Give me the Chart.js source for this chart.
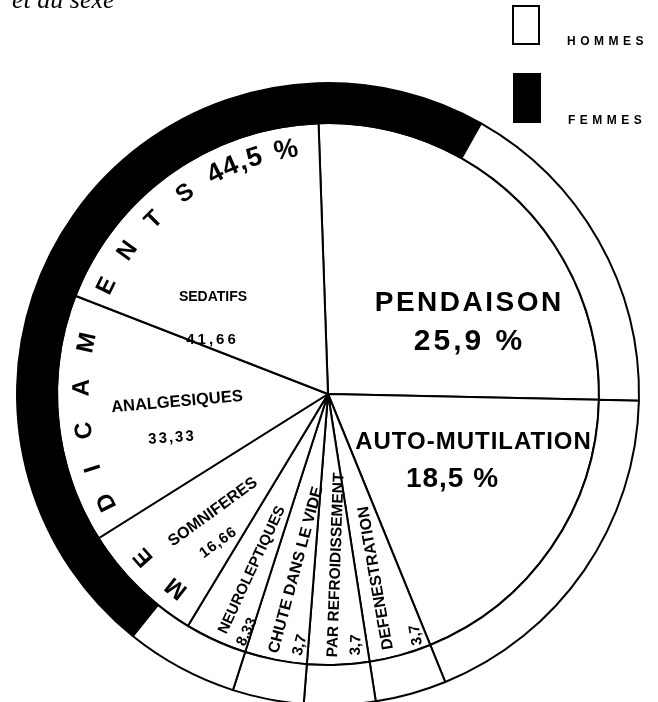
<!DOCTYPE html>
<html><head><meta charset="utf-8">
<script src="https://cdn.jsdelivr.net/npm/chart.js@4/dist/chart.umd.min.js"></script>
<style>
html,body{margin:0;padding:0;background:#fff;}
#wrap{position:relative;width:658px;height:702px;overflow:hidden;background:#fff;}
#c{position:absolute;left:0;top:0;}
.title{position:absolute;left:12px;top:-13px;font:italic 26px "Liberation Serif",serif;line-height:26px;color:#000;white-space:nowrap;}
.box{position:absolute;border:2px solid #000;box-sizing:border-box;}
.lg{position:absolute;font:bold 12px "Liberation Sans",Arial,sans-serif;line-height:12px;letter-spacing:4.5px;color:#000;white-space:nowrap;}
</style></head>
<body>
<div id="wrap">
<canvas id="c" width="658" height="702"></canvas>
<div class="title">et du sexe</div>
<div class="box" style="left:512px;top:5px;width:28px;height:40px;background:#fff"></div>
<div class="box" style="left:513px;top:73px;width:28px;height:50px;background:#000"></div>
<div class="lg" style="left:567px;top:35px">HOMMES</div>
<div class="lg" style="left:568px;top:114px">FEMMES</div>
</div>
<script>
// ---- data ----
const categories = ['PENDAISON','AUTO-MUTILATION','DEFENESTRATION','PAR REFROIDISSEMENT','CHUTE DANS LE VIDE','MEDICAMENTS'];
const categoryPercent = [25.9, 18.5, 3.7, 3.7, 3.7, 44.5];
const drugTypes = ['NEUROLEPTIQUES','SOMNIFERES','ANALGESIQUES','SEDATIFS'];
const drugPercent = [8.33, 16.66, 33.33, 41.66];
const sexes = ['HOMMES','FEMMES'];
// outer ring: share of all cases by sex for each category (read from the ring)
const hommesPercent = [17.15, 18.5, 3.7, 3.7, 3.7, 5.86];
const femmesPercent = [8.75, 0, 0, 0, 0, 38.64];

// ---- build datasets ----
const drugSum = drugPercent.reduce((a,b)=>a+b,0);
const innerLabels = categories.slice(0,5).concat(drugTypes);
const innerValues = categoryPercent.slice(0,5).concat(drugPercent.map(p => categoryPercent[5]*p/drugSum));

const ringValues = [], ringColors = [];
categories.forEach((c,i)=>{
  const order = i===0 ? [1,0] : [0,1];
  order.forEach(s=>{
    const v = s===0 ? hommesPercent[i] : femmesPercent[i];
    if (v>0){ ringValues.push(v); ringColors.push(s===0 ? '#ffffff' : '#000000'); }
  });
});

const FF = '"Liberation Sans", Arial, sans-serif';
// text annotations (offsets relative to pie centre, rotation in degrees)
const textLabels = [
  {t:'PENDAISON', dx:140, dy:-91, r:0, s:28, ls:2.5},
  {t:'25,9 %', dx:140, dy:-52, r:0, s:30, ls:3},
  {t:'AUTO-MUTILATION', dx:145, dy:48, r:0, s:24, ls:1},
  {t:'18,5 %', dx:124, dy:85, r:0, s:28, ls:1},
  {t:'SEDATIFS', dx:-115, dy:-97, r:0, s:14, ls:0},
  {t:'41,66', dx:-117, dy:-54, r:0, s:15, ls:3},
  {t:'ANALGESIQUES', dx:-151, dy:8, r:-5, s:16.5, ls:0},
  {t:'33,33', dx:-157, dy:44, r:-4, s:15, ls:2},
  {t:'SOMNIFERES', dx:-115, dy:118, r:-36, s:16, ls:0},
  {t:'16,66', dx:-110, dy:149, r:-36, s:15, ls:1},
  {t:'NEUROLEPTIQUES', dx:-76, dy:176, r:-65, s:15, ls:0},
  {t:'8,33', dx:-81, dy:238, r:-65, s:15, ls:0},
  {t:'CHUTE DANS LE VIDE', dx:-32, dy:176, r:-75, s:16, ls:0},
  {t:'3,7', dx:-28, dy:251, r:-75, s:15, ls:0},
  {t:'PAR REFROIDISSEMENT', dx:8, dy:171, r:-88, s:15.5, ls:0},
  {t:'3,7', dx:28, dy:251, r:-88, s:15, ls:0},
  {t:'DEFENESTRATION', dx:48, dy:184, r:-100, s:16, ls:0},
  {t:'3,7', dx:88, dy:241, r:-100, s:15, ls:0}
];
// letters of MEDICAMENTS placed around the arc (angle clockwise from top)
const arcTitle = {t:'MEDICAMENTS', angles:[218,228.5,244,252.5,261.5,271.5,282,296,305.5,315,324.5], radius:246, s:24};
const arcPct = {t:'44,5 %', start:331, radius:247, s:27};

const labelPlugin = {
  id:'labels',
  afterDatasetsDraw(chart){
    const ctx = chart.ctx;
    const arc0 = chart.getDatasetMeta(1).data[0];
    const cx = arc0.x, cy = arc0.y;
    ctx.save();
    ctx.fillStyle = '#000';
    ctx.textAlign = 'center';
    ctx.textBaseline = 'middle';
    textLabels.forEach(l=>{
      ctx.save();
      ctx.translate(cx+l.dx, cy+l.dy);
      ctx.rotate(l.r*Math.PI/180);
      ctx.font = 'bold '+l.s+'px '+FF;
      ctx.letterSpacing = l.ls+'px';
      ctx.fillText(l.t, l.ls/2, 0);
      ctx.restore();
    });
    ctx.letterSpacing = '0px';
    ctx.font = 'bold '+arcTitle.s+'px '+FF;
    [...arcTitle.t].forEach((ch,i)=>{
      const a = arcTitle.angles[i]*Math.PI/180;
      ctx.save();
      ctx.translate(cx + arcTitle.radius*Math.sin(a), cy - arcTitle.radius*Math.cos(a));
      ctx.rotate(a);
      ctx.fillText(ch, 0, 0);
      ctx.restore();
    });
    ctx.font = 'bold '+arcPct.s+'px '+FF;
    let ang = arcPct.start*Math.PI/180;
    [...arcPct.t].forEach(ch=>{
      const w = ctx.measureText(ch).width + (ch===' ' ? 4 : 1.5);
      const a = ang + (w/2)/arcPct.radius;
      ctx.save();
      ctx.translate(cx + arcPct.radius*Math.sin(a), cy - arcPct.radius*Math.cos(a));
      ctx.rotate(a);
      ctx.fillText(ch, 0, 0);
      ctx.restore();
      ang += w/arcPct.radius;
    });
    ctx.restore();
  }
};

new Chart(document.getElementById('c'), {
  type:'doughnut',
  data:{
    labels: innerLabels,
    datasets:[
      {label:'Sexe', data:ringValues, backgroundColor:ringColors, borderColor:'#000', borderWidth:2, weight:40, clip:false},
      {label:'Mode', data:innerValues, backgroundColor:'#ffffff', borderColor:'#000', borderWidth:2, weight:271, clip:false}
    ]
  },
  options:{
    responsive:false, animation:false, events:[],
    rotation:-2, cutout:0, radius:311,
    layout:{padding:{top:86, bottom:0, left:0, right:2}},
    plugins:{legend:{display:false}, tooltip:{enabled:false}}
  },
  plugins:[labelPlugin]
});
</script>
</body></html>
